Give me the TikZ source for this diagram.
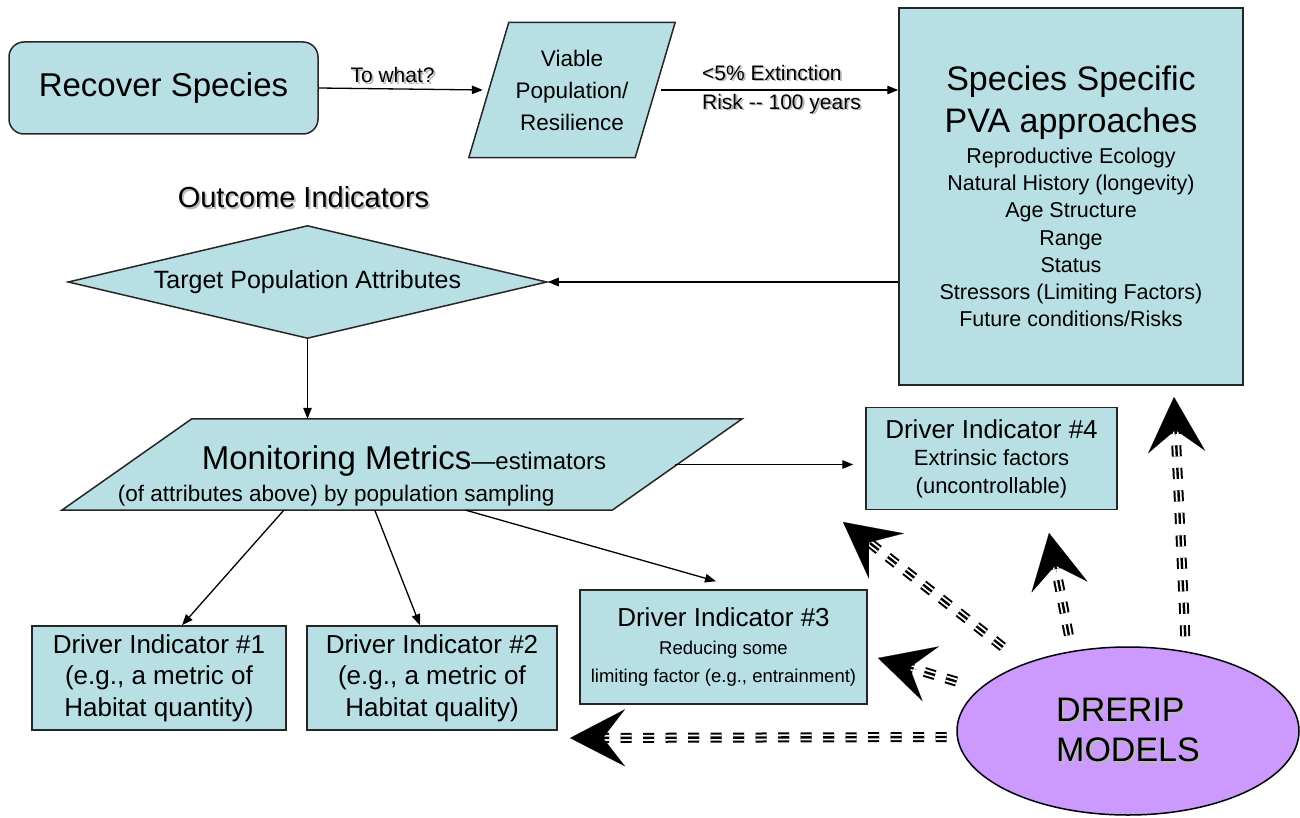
\documentclass[tikz,border=0pt]{standalone}
\usepackage{fontspec}
\setmainfont{Liberation Sans}
\usetikzlibrary{arrows.meta,shapes.geometric,calc,backgrounds}
\definecolor{lblue}{RGB}{184,223,227}
\definecolor{lpurple}{RGB}{204,153,255}
\definecolor{shadowgray}{RGB}{185,185,185}
\newcommand\fsz[2]{\fontsize{#1pt}{#2pt}\selectfont}
\newcommand\shd[1]{\leavevmode\rlap{\kern1.8pt\raisebox{-1.8pt}{\textcolor{shadowgray}{#1}}}#1}
\newcommand\bigarrow[3]{%
  \draw[tripled] ($(#1)!#3!(#2)$) -- ($(#2)!32pt!(#1)$);
  \draw[bighead] ($(#2)!40pt!(#1)$) -- (#2);}
\tikzset{
  box/.style={draw=black!85, line width=1.5pt, fill=lblue, inner sep=0pt},
  shp/.style={draw=black!85, line width=1.5pt, fill=lblue},
  arr/.style={line width=1.3pt, -{Triangle[length=11pt,width=8.5pt]}},
  tripled/.style={draw=black, line width=10pt, dash pattern=on 11pt off 11.5pt,
    postaction={draw=white, line width=6pt, dash pattern=on 11pt off 11.5pt},
    postaction={draw=black, line width=2.4pt, dash pattern=on 11pt off 11.5pt}},
  bighead/.style={line width=0.1pt, -{Stealth[length=55pt,width=57pt,inset=22pt]}}
}
\begin{document}
\begin{tikzpicture}[x=1pt,y=-1pt]
\useasboundingbox (0,0) rectangle (1300,818);

% nodes
\node[box, rounded corners=15pt, minimum width=309pt, minimum height=92pt, font=\fsz{33}{40}] (rs) at (163.5,88) {Recover Species};
\node[inner sep=0pt, minimum width=206pt, minimum height=135pt, align=center, font=\fsz{22.5}{32}] (vp) at (572,90) {Viable\\Population/\\Resilience};
\node[box, minimum width=344pt, minimum height=377pt, align=center, font=\fsz{21.5}{27.3}] (pva) at (1071,196.5)
  {{\fsz{34}{41}Species Specific}\\[9.7pt]{\fsz{34}{41}PVA approaches}\\[3pt]Reproductive Ecology\\Natural History (longevity)\\Age Structure\\Range\\Status\\Stressors (Limiting Factors)\\Future conditions/Risks};
\node[font=\fsz{29}{34}] (oi) at (303.5,198) {\shd{Outcome Indicators}};
\node[diamond, aspect=4.24, draw=black!85, line width=1.5pt, fill=lblue, inner sep=0pt, minimum width=479pt, minimum height=113pt, font=\fsz{25}{30}] (dia) at (307.5,282) {Target Population Attributes};
\node[inner sep=0pt, minimum width=680pt, minimum height=91pt, align=left, font=\fsz{22.5}{32}] (mm) at (402,464.5)
  {\rule{0pt}{46pt}\hspace*{84pt}{\fsz{33}{32}Monitoring Metrics}{\fsz{24}{32}—estimators}\hspace*{80pt}\\(of attributes above) by population sampling};
\node[box, minimum width=251pt, minimum height=102pt, align=center, font=\fsz{22}{27.5}] (d4) at (991.5,458.5)
  {{\fsz{26}{30}Driver Indicator \#4}\\Extrinsic factors\\(uncontrollable)};
\node[box, minimum width=254pt, minimum height=104pt, align=center, font=\fsz{26}{31.5}] (d1) at (159,678)
  {Driver Indicator \#1\\(e.g., a metric of\\Habitat quantity)};
\node[box, minimum width=250pt, minimum height=104pt, align=center, font=\fsz{26}{31.5}] (d2) at (432,678)
  {Driver Indicator \#2\\(e.g., a metric of\\Habitat quality)};
\node[box, minimum width=287pt, minimum height=114pt, align=center, font=\fsz{18.5}{28}] (d3) at (723.5,647)
  {{\fsz{26}{30}Driver Indicator \#3}\\Reducing some\\limiting factor (e.g., entrainment)};
\node[ellipse, draw=black, line width=1.5pt, fill=lpurple, inner sep=0pt, minimum width=342pt, minimum height=168pt, align=left, font=\fsz{34}{40}] (drerip) at (1128,731)
  {\shd{DRERIP}\\\shd{MODELS}};

% parallelogram outlines
\begin{scope}[on background layer]
  \fill[white] (0,0) rectangle (1300,818);
  \filldraw[shp] (vp.south west) -- ($(vp.south east)+(-40,0)$) -- (vp.north east) -- ($(vp.north west)+(40,0)$) -- cycle;
  \filldraw[shp] (mm.south west) -- ($(mm.south east)+(-130,0)$) -- (mm.north east) -- ($(mm.north west)+(130,0)$) -- cycle;
\end{scope}

% solid connectors
\draw[arr] (rs.east) -- ($(vp.west)+(14,0)$) node[pos=0.45, above=0pt, font=\fsz{21}{25}] {\shd{To what?}};
\draw[arr] ($(vp.east)+(-14,0)$) -- (pva.west |- vp.east)
  node[pos=0.17, anchor=west, inner sep=0pt, align=left, font=\fsz{21}{29}] {\shd{<5\% Extinction}\\\shd{Risk -{}- 100 years}};
\draw[arr] (pva.west |- dia.east) -- (dia.east);
\draw[arr] (dia.south) -- (dia.south |- mm.north);
\draw[arr] ($(mm.east)+(-67,0)$) -- ($(d4.west |- mm.east)+(-12,0)$);
\draw[arr] ($(mm.south west)+(222,0)$) -- ($(d1.north)+(23,0)$);
\draw[arr] ($(mm.south west)+(313,0)$) -- ($(d2.north)+(-12,0)$);
\draw[arr] ($(mm.south west)+(404,0)$) -- ($(d3.north)+(-7.5,-8)$);

% big dashed arrows
\coordinate (tA) at (570,738);
\coordinate (tB) at (1174,397);
\coordinate (tC) at (1049,533);
\coordinate (tD) at (843,522);
\coordinate (tE) at (878,658);
\bigarrow{drerip.182}{tA}{10pt}
\bigarrow{drerip.54}{tB}{15pt}
\bigarrow{drerip.125}{tC}{16pt}
\bigarrow{drerip.147}{tD}{27pt}
\bigarrow{drerip.164}{tE}{24pt}
\end{tikzpicture}
\end{document}
